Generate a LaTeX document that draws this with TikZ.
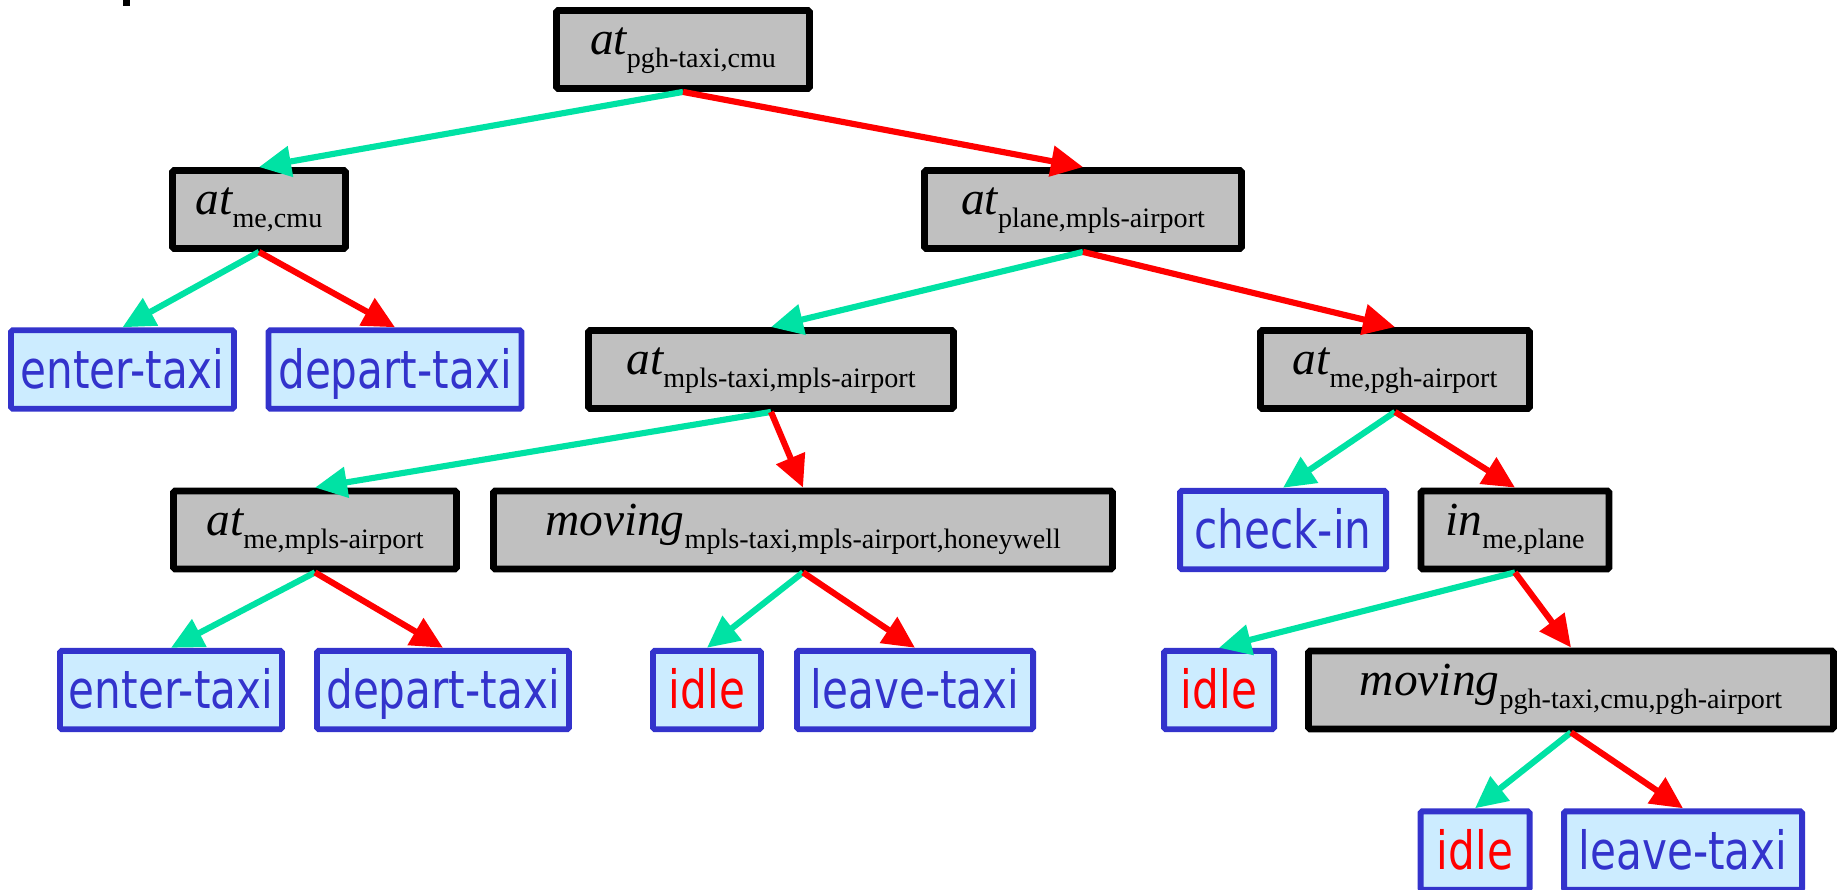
\documentclass[tikz,border=0pt]{standalone}
\usepackage{fontspec}
\setmainfont{Liberation Serif}
\newfontfamily\sansf[FakeStretch=0.80]{DejaVu Sans}
\usetikzlibrary{arrows.meta}
\definecolor{bblue}{RGB}{51,51,204}
\definecolor{lblue}{RGB}{204,236,255}
\definecolor{gfill}{RGB}{192,192,192}
\definecolor{agreen}{RGB}{0,226,164}
\definecolor{ared}{RGB}{255,0,0}
\newcommand\glbl[2]{\fontsize{27}{30}\selectfont\itshape #1\raisebox{-7.4pt}{\fontsize{16}{18}\selectfont\upshape #2}}
\begin{document}
\begin{tikzpicture}[x=0.02cm,y=-0.02cm,
  gbox/.style={draw=black, line width=3.9pt, fill=gfill, rounded corners=1pt,
    minimum height=1.56cm, inner sep=0pt, text height=16.5pt, text depth=10.3pt,
    minimum width={(#1-7)*0.02cm}},
  bbox/.style={draw=bblue, line width=3.4pt, fill=lblue, rounded corners=1pt,
    minimum height=1.57cm, inner sep=0pt, text height=25pt, text depth=3.4pt,
    text=bblue, font=\fontsize{30}{33}\selectfont\sansf,
    minimum width={(#1-6)*0.02cm}},
  rbox/.style={bbox=#1, text=ared},
  garr/.style={draw=agreen, line width=3.5pt, -{Triangle[length=0.64cm,width=0.6cm]}},
  rarr/.style={draw=ared, line width=3.5pt, -{Triangle[length=0.64cm,width=0.6cm]}}
]
\useasboundingbox (0,0) rectangle (1841,889);
\clip (0,0) rectangle (1841,889);
\fill (123,0) rectangle (130,6);
% row 0
\node[gbox=260] (root) at (683,49.5) {\glbl{at}{pgh-taxi,cmu}};
% row 1
\node[gbox=180] (mecmu) at (259,209.5) {\glbl{at}{me,cmu}};
\node[gbox=324] (plane) at (1083,209.5) {\glbl{at}{plane,mpls-airport}};
% row 2
\node[bbox=229] (enter1) at (122.5,369.5) {enter-taxi};
\node[bbox=259] (depart1) at (395,369.5) {depart-taxi};
\node[gbox=372] (mplstaxi) at (771,369.5) {\glbl{at}{mpls-taxi,mpls-airport}};
\node[gbox=276] (mepgh) at (1395,369.5) {\glbl{at}{me,pgh-airport}};
% row 3
\node[gbox=290] (memplsair) at (315,530) {\glbl{at}{me,mpls-airport}};
\node[gbox=626] (movmpls) at (803,530) {\glbl{moving}{mpls-taxi,mpls-airport,honeywell}};
\node[bbox=212] (checkin) at (1283,530) {check-in};
\node[gbox=195] (inplane) at (1515,530) {\glbl{in}{me,plane}};
% row 4
\node[bbox=228] (enter2) at (171,690) {enter-taxi};
\node[bbox=258] (depart2) at (443,690) {depart-taxi};
\node[rbox=114] (idle1) at (707,690) {idle};
\node[bbox=242] (leave1) at (915,690) {leave-taxi};
\node[rbox=116] (idle2) at (1219,690) {idle};
\node[gbox=532] (movpgh) at (1571,690) {\glbl{moving}{pgh-taxi,cmu,pgh-airport}};
% row 5
\node[rbox=115] (idle3) at (1475,850.5) {idle};
\node[bbox=244] (leave2) at (1683,850.5) {leave-taxi};
% arrows
\draw[garr] (root.south) -- (mecmu.north);
\draw[rarr] (root.south) -- (plane.north);
\draw[garr] (mecmu.south) -- (enter1.north);
\draw[rarr] (mecmu.south) -- (depart1.north);
\draw[garr] (plane.south) -- (mplstaxi.north);
\draw[rarr] (plane.south) -- (mepgh.north);
\draw[garr] (mplstaxi.south) -- (memplsair.north);
\draw[rarr] (mplstaxi.south) -- (movmpls.north);
\draw[garr] (mepgh.south) -- (checkin.north);
\draw[rarr] (mepgh.south) -- (inplane.north);
\draw[garr] (memplsair.south) -- (enter2.north);
\draw[rarr] (memplsair.south) -- (depart2.north);
\draw[garr] (movmpls.south) -- (idle1.north);
\draw[rarr] (movmpls.south) -- (leave1.north);
\draw[garr] (inplane.south) -- (idle2.north);
\draw[rarr] (inplane.south) -- (movpgh.north);
\draw[garr] (movpgh.south) -- (idle3.north);
\draw[rarr] (movpgh.south) -- (leave2.north);
\end{tikzpicture}
\end{document}
